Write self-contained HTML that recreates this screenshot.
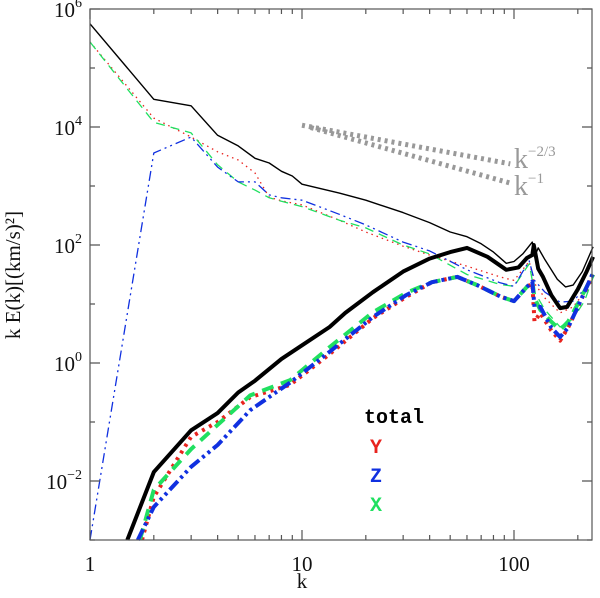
<!DOCTYPE html>
<html><head><meta charset="utf-8">
<style>
html,body{margin:0;padding:0;background:#fff;}
svg{display:block;}
.tl{font-family:"Liberation Serif",serif;font-size:21px;fill:#111;}
</style></head>
<body>
<svg id="chart" width="600" height="598" viewBox="0 0 600 598" xmlns="http://www.w3.org/2000/svg">
<g id="grid"></g>
<g id="series"></g>
<g id="axes"></g>
<g id="legend">
  <text x="364" y="423" style="font-family:'Liberation Mono',monospace;font-weight:bold;font-size:20px;fill:#000">total</text>
  <text x="370" y="453" style="font-family:'Liberation Mono',monospace;font-weight:bold;font-size:20px;fill:#e8231e">Y</text>
  <text x="370" y="482" style="font-family:'Liberation Mono',monospace;font-weight:bold;font-size:20px;fill:#1030e0">Z</text>
  <text x="370" y="511" style="font-family:'Liberation Mono',monospace;font-weight:bold;font-size:20px;fill:#20e060">X</text>
</g>
<text class="tl" x="302" y="588" text-anchor="middle">k</text>
<text class="tl" transform="translate(20,275) rotate(-90)" text-anchor="middle">k E(k)[(km/s)²]</text>
</svg>
<script>
// ---- data ----
const kThinTotal = [1,2,3,4,5,6,7,8,9,10,15,20,30,40,50,60,70,80,92,100,110,122,125,130,140,160,175,190,210,236];
const logThinTotal = [5.75,4.47,4.36,3.86,3.68,3.47,3.39,3.25,3.17,3.03,2.88,2.76,2.55,2.38,2.22,2.14,2.02,1.88,1.69,1.72,1.85,2.05,1.8,1.95,1.75,1.42,1.29,1.32,1.55,1.97];
const kThickTotal = [1.5,2,3,4,5,6,8,10,13.5,16,21.6,30,40,50,60,75,92,105,115,122,124,130,137,150,165,178,200,220,236];
const logThickTotal = [-3,-1.85,-1.14,-0.85,-0.5,-0.3,0.07,0.3,0.61,0.85,1.2,1.55,1.77,1.88,1.95,1.8,1.58,1.62,1.78,1.83,2.0,1.6,1.46,1.15,0.93,0.95,1.25,1.55,1.8];
const kThinComp = [1,2,3,4,5,6,7,8,10,15,20,30,40,60,86,100,118,125,140,165,190,215,236];
const logThinY = [5.44,4.15,3.83,3.58,3.44,3.22,2.81,2.75,2.68,2.42,2.22,1.98,1.83,1.64,1.46,1.4,1.72,1.35,1.1,0.85,0.95,1.2,1.5];
const logThinX = [5.44,4.08,3.9,3.36,3.07,2.93,2.8,2.74,2.65,2.42,2.29,2.0,1.85,1.5,1.33,1.3,1.68,1.2,0.9,0.61,0.75,1.05,1.45];
const logThinZ = [-3,3.56,3.83,3.32,3.07,3.07,2.85,2.8,2.76,2.52,2.34,2.05,1.9,1.58,1.36,1.3,1.73,1.4,1.2,1.03,1.05,1.25,1.53];
const kThickY = [1.76,2,3,4,5.7,8.8,13.5,21.6,31,41,54,67,87,100,115,122,125,133,150,165,180,200,236];
const kThickX = [1.72,2,3,4,5.7,8.8,13.5,21.6,31,41,54,67,87,100,115,122,125,133,150,165,180,200,236];
const kThickZ = [1.68,2,3,4,5.7,8.8,13.5,21.6,31,41,54,67,87,100,115,122,125,133,150,165,180,200,236];
const logThickX = [-3,-2.15,-1.46,-1.05,-0.55,-0.29,0.27,0.86,1.19,1.37,1.46,1.32,1.12,1.05,1.29,1.4,1.1,0.9,0.7,0.56,0.7,1.0,1.5];
const logThickY = [-3,-2.27,-1.25,-1.0,-0.58,-0.37,0.15,0.76,1.12,1.37,1.46,1.32,1.12,1.05,1.29,1.35,0.7,0.85,0.55,0.38,0.6,0.95,1.5];
const logThickZ = [-3,-2.44,-1.76,-1.39,-0.8,-0.33,0.19,0.78,1.15,1.37,1.46,1.32,1.12,1.05,1.29,1.38,0.95,0.95,0.6,0.44,0.6,0.95,1.53];
const yTickExp = [-2,0,2,4,6];
const xTickLabels = [1,10,100];

// ---- axes ----
const X0=90, X1=592, Y0=540, Y1=9;
const xDec=212, yDec=59, kMax=Math.pow(10,(X1-X0)/xDec);
function sx(k){return X0+xDec*Math.log10(k);}
function sy(le){return Y0-yDec*(le+3);}
const NS="http://www.w3.org/2000/svg";
function mk(tag,attrs,parent){const e=document.createElementNS(NS,tag);for(const a in attrs)e.setAttribute(a,attrs[a]);parent.appendChild(e);return e;}
const series=document.getElementById('series');
const axes=document.getElementById('axes');

function line(ks,ls,color,w,dash,name){
  const d=ks.map((k,i)=>(i?'L':'M')+sx(k).toFixed(1)+','+sy(ls[i]).toFixed(1)).join(' ');
  const p=mk('path',{d:d,fill:'none',stroke:color,'stroke-width':w,'stroke-linejoin':'round'},series);
  if(dash)p.setAttribute('stroke-dasharray',dash);
  
  
}
line(kThinTotal,logThinTotal,'#000',1.4,null,'total-thin-line');
line(kThinComp,logThinY,'#e8231e',1.3,'1.5 4','y-thin-line');
line(kThinComp,logThinX,'#20e060',1.3,'9 6','x-thin-line');
line(kThinComp,logThinZ,'#1030e0',1.3,'10 4 2 4 2 4','z-thin-line');
line(kThickY,logThickY,'#e8231e',4,'3 5','y-thick-line');
line(kThickX,logThickX,'#20e060',4,'12 8','x-thick-line');
line(kThickZ,logThickZ,'#1030e0',4,'12 4 3 4 3 4','z-thick-line');
line(kThickTotal,logThickTotal,'#000',4,null,'total-thick-line');

// reference slopes
const refK=[10,96];
const ref23=mk('line',{x1:sx(refK[0]),y1:sy(4.03),x2:sx(refK[1]),y2:sy(4.03-2/3*Math.log10(refK[1]/refK[0])),stroke:'#999','stroke-width':5,'stroke-dasharray':'3 4'},series);


const ref1=mk('line',{x1:sx(11),y1:sy(3.99),x2:sx(refK[1]),y2:sy(3.99-Math.log10(refK[1]/11)),stroke:'#999','stroke-width':5,'stroke-dasharray':'3 4'},series);


const t1=mk('text',{x:514,y:168,style:"font-family:'Liberation Serif',serif;font-size:28px;fill:#999"},series);
t1.innerHTML='k<tspan dy="-12" style="font-size:15px">−2/3</tspan>';


const t2=mk('text',{x:514,y:195,style:"font-family:'Liberation Serif',serif;font-size:28px;fill:#999"},series);
t2.innerHTML='k<tspan dy="-12" style="font-size:15px">−1</tspan>';



// frame
const fr=mk('rect',{x:X0,y:Y1,width:X1-X0,height:Y0-Y1,fill:'none',stroke:'#555','stroke-width':1.2},axes);


// x ticks
for(let dec=0;dec<3;dec++){for(let m=1;m<10;m++){const k=m*Math.pow(10,dec);if(k>kMax)break;const x=sx(k),L=m===1?10:5;
  const t=mk('path',{d:`M${x},${Y0}v${-L}M${x},${Y1}v${L}`,stroke:'#555','stroke-width':1.2},axes);
  
  }}
xTickLabels.forEach(v=>{const t=mk('text',{x:sx(v),y:571,'text-anchor':'middle',class:'tl'},axes);t.textContent=String(v);
  
  });
// y ticks
for(let e=-3;e<=6;e++){const y=sy(e),L=(e%2===0)?10:5;
  const t=mk('path',{d:`M${X0},${y}h${L}M${X1},${y}h${-L}`,stroke:'#555','stroke-width':1.2},axes);
  
  }
yTickExp.forEach(e=>{const t=mk('text',{x:82,y:sy(e)+8,'text-anchor':'end',class:'tl'},axes);
  t.innerHTML='10<tspan dy="-10" style="font-size:14px">'+(e<0?'−'+(-e):e)+'</tspan>';
  
  });
</script>
</body></html>
